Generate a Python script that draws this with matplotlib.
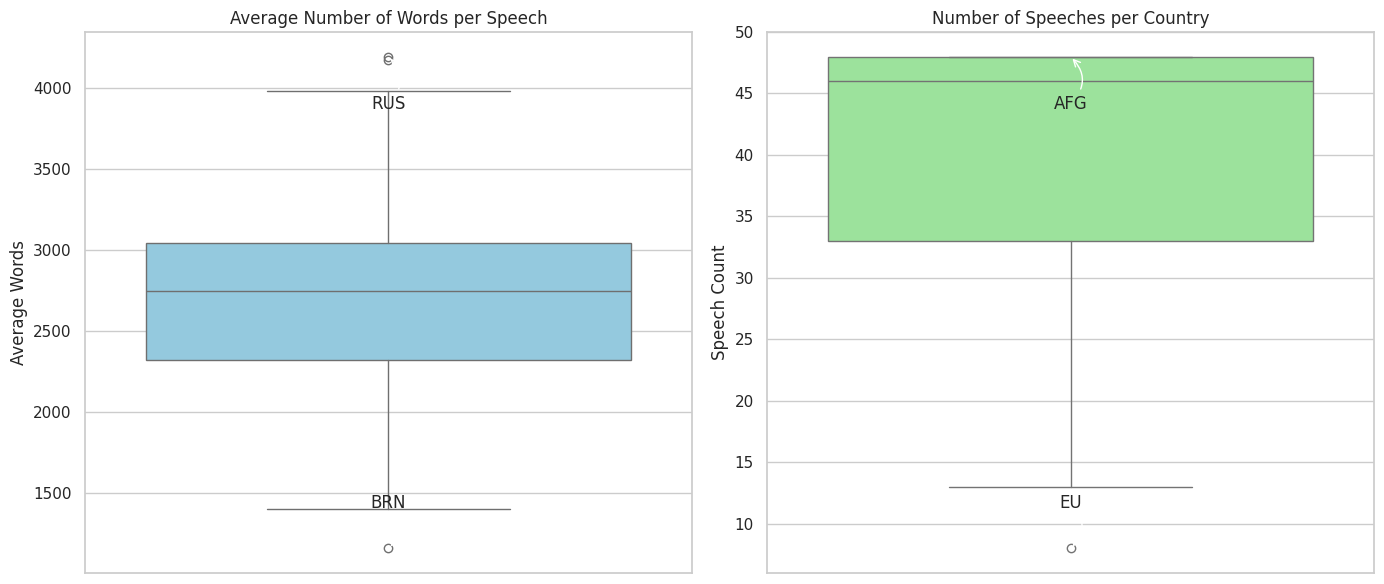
import colorsys

import matplotlib

matplotlib.use('Agg')

import matplotlib.pyplot as plt
import matplotlib.colors as mcolors
import seaborn as sns

# box statistics
words_stats = dict(whislo=1401, q1=2319, med=2750, q3=3045, whishi=3982)
words_fliers = [4191, 4169, 1161]
words_max = ('RUS', 4191)
words_min = ('BRN', 1161)

count_stats = dict(whislo=13, q1=33, med=46, q3=48, whishi=48)
count_fliers = [8]
count_max = ('AFG', 48)
count_min = ('EU', 8)

panels = [
    ('Average Number of Words per Speech', 'Average Words', words_stats, words_fliers,
     words_max, words_min, 'skyblue'),
    ('Number of Speeches per Country', 'Speech Count', count_stats, count_fliers,
     count_max, count_min, 'lightgreen'),
]


def box_colors(name):
    # mimic seaborn's saturation=0.75 and auto line colour
    h, l, s = colorsys.rgb_to_hls(*mcolors.to_rgb(name))
    face = colorsys.hls_to_rgb(h, l, s * 0.75)
    lum = l * 0.6
    return face, (lum, lum, lum)


sns.set_theme(style='whitegrid')

fig, axes = plt.subplots(1, 2, figsize=(13.84, 5.84), dpi=100)
fig.subplots_adjust(left=0.0614, right=0.9928, top=0.9452, bottom=0.0188, wspace=0.1236)

for ax, (title, ylabel, stats, fliers, top, bottom, color) in zip(axes, panels):
    face, line = box_colors(color)
    st = dict(stats, fliers=fliers)
    ax.bxp([st], positions=[0], widths=0.8, capwidths=[0.4], patch_artist=True,
           boxprops=dict(facecolor=face, edgecolor=line, linewidth=1),
           whiskerprops=dict(color=line, linewidth=1),
           capprops=dict(color=line, linewidth=1),
           medianprops=dict(color=line, linewidth=1),
           flierprops=dict(marker='o', markerfacecolor='none', markeredgecolor=line,
                           markersize=6, markeredgewidth=1))
    ax.set_xlim(-0.5, 0.5)
    ax.set_xticks([])
    ax.set_title(title)
    ax.set_ylabel(ylabel)

    ax.annotate(top[0], xy=(0, top[1]), xytext=(0, -34), textcoords='offset points',
                ha='center', va='center', fontsize=12,
                arrowprops=dict(arrowstyle='->', color='white',
                                connectionstyle='arc3,rad=0.5'))
    ax.annotate(bottom[0], xy=(0, bottom[1]), xytext=(0, 33), textcoords='offset points',
                ha='center', va='center', fontsize=12,
                arrowprops=dict(arrowstyle='->', color='white',
                                connectionstyle='arc3,rad=-0.5'))

plt.savefig('out.png')
